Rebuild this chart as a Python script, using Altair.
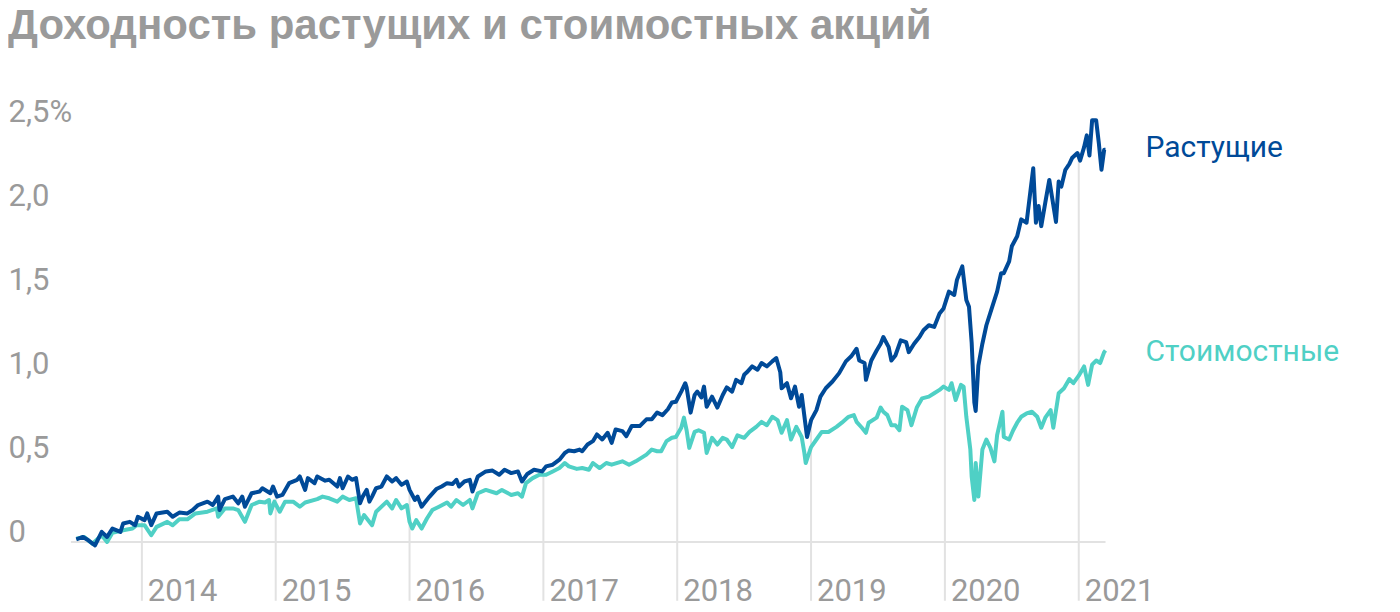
import altair as alt
import pandas as pd

# ---- data (decimal years, cumulative return) ----
growth_t = [2013.51, 2013.56, 2013.60, 2013.65, 2013.70, 2013.74, 2013.78, 2013.84, 2013.86, 2013.91,
            2013.95, 2013.97, 2014.02, 2014.04, 2014.07, 2014.11, 2014.19, 2014.23, 2014.28, 2014.34,
            2014.38, 2014.42, 2014.49, 2014.53, 2014.57, 2014.58, 2014.62, 2014.68, 2014.72, 2014.75,
            2014.77, 2014.82, 2014.88, 2014.90, 2014.96, 2014.98, 2015.01, 2015.05, 2015.10, 2015.16,
            2015.18, 2015.22, 2015.24, 2015.29, 2015.31, 2015.37, 2015.40, 2015.46, 2015.48, 2015.50,
            2015.54, 2015.57, 2015.60, 2015.63, 2015.65, 2015.68, 2015.70, 2015.72, 2015.75, 2015.79,
            2015.83, 2015.87, 2015.90, 2015.94, 2015.98, 2016.00, 2016.04, 2016.06, 2016.09, 2016.11,
            2016.15, 2016.20, 2016.24, 2016.28, 2016.32, 2016.35, 2016.37, 2016.41, 2016.45, 2016.47,
            2016.51, 2016.57, 2016.62, 2016.67, 2016.71, 2016.76, 2016.81, 2016.84, 2016.88, 2016.93,
            2016.99, 2017.02, 2017.07, 2017.12, 2017.16, 2017.19, 2017.23, 2017.27, 2017.29, 2017.33,
            2017.37, 2017.40, 2017.44, 2017.48, 2017.51, 2017.54, 2017.59, 2017.62, 2017.66, 2017.72,
            2017.77, 2017.81, 2017.85, 2017.89, 2017.93, 2017.96, 2017.99, 2018.03, 2018.06, 2018.07,
            2018.10, 2018.13, 2018.15, 2018.18, 2018.20, 2018.22, 2018.26, 2018.30, 2018.34, 2018.37,
            2018.41, 2018.44, 2018.48, 2018.50, 2018.52, 2018.56, 2018.60, 2018.63, 2018.67, 2018.71,
            2018.74, 2018.77, 2018.78, 2018.82, 2018.85, 2018.88, 2018.91, 2018.93, 2018.97, 2019.00,
            2019.04, 2019.07, 2019.11, 2019.16, 2019.21, 2019.26, 2019.30, 2019.34, 2019.36, 2019.40,
            2019.41, 2019.45, 2019.49, 2019.52, 2019.54, 2019.58, 2019.60, 2019.63, 2019.67, 2019.71,
            2019.73, 2019.77, 2019.81, 2019.84, 2019.88, 2019.92, 2019.96, 2019.99, 2020.03, 2020.07,
            2020.09, 2020.13, 2020.16, 2020.18, 2020.20, 2020.22, 2020.23, 2020.25, 2020.28, 2020.31,
            2020.35, 2020.39, 2020.42, 2020.44, 2020.48, 2020.50, 2020.54, 2020.57, 2020.61, 2020.64,
            2020.66, 2020.68, 2020.70, 2020.72, 2020.75, 2020.78, 2020.80, 2020.83, 2020.85, 2020.87,
            2020.90, 2020.93, 2020.95, 2020.99, 2021.01, 2021.04, 2021.06, 2021.08, 2021.10, 2021.13,
            2021.15, 2021.17, 2021.19, 2021.20]
growth_v = [0.016, 0.03, 0.01, -0.02, 0.06, 0.03, 0.08, 0.06, 0.11, 0.12,
            0.10, 0.15, 0.13, 0.17, 0.10, 0.17, 0.18, 0.15, 0.175, 0.17,
            0.19, 0.22, 0.24, 0.22, 0.27, 0.19, 0.255, 0.27, 0.23, 0.27,
            0.21, 0.29, 0.30, 0.32, 0.29, 0.33, 0.27, 0.28, 0.35, 0.37,
            0.39, 0.31, 0.38, 0.35, 0.39, 0.365, 0.37, 0.33, 0.38, 0.32,
            0.39, 0.37, 0.38, 0.23, 0.27, 0.31, 0.24, 0.27, 0.32, 0.33,
            0.39, 0.36, 0.38, 0.34, 0.36, 0.31, 0.25, 0.27, 0.21, 0.23,
            0.27, 0.315, 0.33, 0.35, 0.345, 0.37, 0.33, 0.36, 0.37, 0.30,
            0.39, 0.42, 0.425, 0.40, 0.43, 0.41, 0.42, 0.36, 0.405, 0.43,
            0.42, 0.45, 0.46, 0.49, 0.53, 0.545, 0.54, 0.55, 0.54, 0.58,
            0.60, 0.64, 0.61, 0.65, 0.59, 0.67, 0.66, 0.63, 0.69, 0.69,
            0.73, 0.73, 0.77, 0.755, 0.79, 0.83, 0.835, 0.895, 0.945, 0.92,
            0.77, 0.875, 0.895, 0.86, 0.925, 0.805, 0.865, 0.80, 0.875, 0.92,
            0.895, 0.965, 0.945, 0.995, 1.01, 1.045, 1.025, 1.065, 1.045, 1.075,
            1.095, 1.01, 0.915, 0.945, 0.855, 0.925, 0.805, 0.875, 0.625, 0.725,
            0.785, 0.865, 0.915, 0.955, 1.005, 1.075, 1.105, 1.15, 1.08, 1.065,
            0.965, 1.08, 1.14, 1.18, 1.22, 1.16, 1.08, 1.11, 1.20, 1.19,
            1.13, 1.18, 1.22, 1.26, 1.29, 1.28, 1.36, 1.39, 1.49, 1.47,
            1.56, 1.64, 1.44, 1.40, 1.185, 0.83, 0.78, 1.05, 1.18, 1.29,
            1.39, 1.49, 1.60, 1.60, 1.67, 1.76, 1.82, 1.92, 1.90, 2.095,
            2.225, 1.90, 2.00, 1.88, 2.02, 2.155, 2.055, 1.905, 2.145, 2.115,
            2.215, 2.25, 2.285, 2.315, 2.27, 2.35, 2.42, 2.30, 2.51, 2.51,
            2.375, 2.215, 2.335, 2.335]

value_t = [2013.51, 2013.57, 2013.63, 2013.70, 2013.74, 2013.78, 2013.86, 2013.93, 2013.96, 2014.02,
           2014.07, 2014.11, 2014.19, 2014.23, 2014.28, 2014.34, 2014.40, 2014.49, 2014.56, 2014.57,
           2014.62, 2014.68, 2014.72, 2014.77, 2014.82, 2014.88, 2014.92, 2014.95, 2014.96, 2014.99,
           2015.03, 2015.07, 2015.13, 2015.18, 2015.22, 2015.31, 2015.35, 2015.40, 2015.46, 2015.50,
           2015.55, 2015.60, 2015.63, 2015.66, 2015.72, 2015.75, 2015.83, 2015.87, 2015.90, 2015.94,
           2015.98, 2016.00, 2016.02, 2016.05, 2016.09, 2016.13, 2016.17, 2016.22, 2016.28, 2016.31,
           2016.35, 2016.40, 2016.45, 2016.47, 2016.51, 2016.57, 2016.65, 2016.69, 2016.76, 2016.81,
           2016.84, 2016.87, 2016.92, 2016.97, 2017.02, 2017.07, 2017.12, 2017.16, 2017.19, 2017.25,
           2017.29, 2017.34, 2017.37, 2017.42, 2017.47, 2017.51, 2017.59, 2017.64, 2017.69, 2017.77,
           2017.81, 2017.85, 2017.88, 2017.92, 2017.96, 2017.99, 2018.03, 2018.05, 2018.07, 2018.09,
           2018.13, 2018.16, 2018.20, 2018.22, 2018.26, 2018.30, 2018.34, 2018.37, 2018.41, 2018.45,
           2018.50, 2018.54, 2018.59, 2018.63, 2018.67, 2018.71, 2018.75, 2018.78, 2018.82, 2018.85,
           2018.89, 2018.93, 2018.95, 2018.96, 2019.00, 2019.04, 2019.08, 2019.13, 2019.19, 2019.23,
           2019.28, 2019.32, 2019.34, 2019.38, 2019.41, 2019.43, 2019.49, 2019.52, 2019.54, 2019.57,
           2019.60, 2019.63, 2019.66, 2019.68, 2019.72, 2019.75, 2019.79, 2019.83, 2019.88, 2019.92,
           2019.96, 2019.99, 2020.03, 2020.05, 2020.08, 2020.12, 2020.14, 2020.16, 2020.19, 2020.20,
           2020.22, 2020.23, 2020.25, 2020.28, 2020.31, 2020.34, 2020.37, 2020.39, 2020.43, 2020.44,
           2020.48, 2020.51, 2020.54, 2020.57, 2020.61, 2020.65, 2020.69, 2020.72, 2020.75, 2020.79,
           2020.81, 2020.85, 2020.89, 2020.93, 2020.96, 2021.00, 2021.04, 2021.07, 2021.10, 2021.13,
           2021.16, 2021.19, 2021.20]
value_v = [0.02, 0.03, -0.01, 0.04, 0.0, 0.055, 0.07, 0.08, 0.10, 0.10,
           0.04, 0.09, 0.12, 0.10, 0.135, 0.135, 0.17, 0.18, 0.20, 0.15,
           0.20, 0.20, 0.19, 0.12, 0.22, 0.24, 0.235, 0.25, 0.17, 0.24,
           0.18, 0.24, 0.24, 0.21, 0.235, 0.255, 0.27, 0.26, 0.24, 0.27,
           0.25, 0.26, 0.11, 0.16, 0.10, 0.18, 0.24, 0.20, 0.25, 0.20,
           0.22, 0.12, 0.08, 0.13, 0.08, 0.14, 0.19, 0.21, 0.235, 0.21,
           0.25, 0.22, 0.25, 0.20, 0.29, 0.31, 0.29, 0.31, 0.28, 0.29,
           0.27, 0.35, 0.38, 0.40, 0.40, 0.42, 0.44, 0.47, 0.45, 0.435,
           0.44, 0.43, 0.47, 0.44, 0.47, 0.46, 0.48, 0.46, 0.48, 0.52,
           0.55, 0.54, 0.54, 0.60, 0.62, 0.625, 0.68, 0.74, 0.665, 0.56,
           0.655, 0.665, 0.65, 0.53, 0.62, 0.58, 0.62, 0.61, 0.565, 0.635,
           0.62, 0.655, 0.685, 0.715, 0.695, 0.745, 0.725, 0.65, 0.725, 0.61,
           0.685, 0.625, 0.53, 0.47, 0.565, 0.61, 0.655, 0.655, 0.685, 0.71,
           0.745, 0.755, 0.715, 0.68, 0.65, 0.71, 0.74, 0.80, 0.775, 0.755,
           0.695, 0.695, 0.665, 0.805, 0.785, 0.695, 0.80, 0.855, 0.865, 0.885,
           0.905, 0.925, 0.905, 0.945, 0.845, 0.935, 0.925, 0.745, 0.55, 0.39,
           0.25, 0.47, 0.27, 0.55, 0.61, 0.56, 0.48, 0.635, 0.775, 0.625,
           0.61, 0.665, 0.71, 0.745, 0.765, 0.775, 0.745, 0.68, 0.74, 0.785,
           0.68, 0.885, 0.915, 0.97, 0.945, 0.99, 1.045, 0.935, 1.055, 1.08,
           1.065, 1.13, 1.14]

years = [2014, 2015, 2016, 2017, 2018, 2019, 2020, 2021]
year_labels = ["2014", "2015", "2016", "2017", "2018", "2019", "2020", "2021"]
year_rule_top = [0.13, 0.28, 0.31, 0.43, 0.835, 0.725, 1.45, 2.31]

series_names = ["Растущие", "Стоимостные"]
series_colors = ["#004a98", "#4fd0c5"]
label_t = [2021.2, 2021.2]
label_y = [2.29, 1.075]

baseline_from = [2013.47]
baseline_to = [2021.2]

title_text = "Доходность растущих и стоимостных акций"
y_ticks = [0, 0.5, 1.0, 1.5, 2.0, 2.5]

# ---- tables ----
growth_df = pd.DataFrame({"t": growth_t, "v": growth_v})
value_df = pd.DataFrame({"t": value_t, "v": value_v})
years_df = pd.DataFrame({"year": years, "label": year_labels, "top": year_rule_top, "bottom": [-0.35] * len(years)})
labels_df = pd.DataFrame({"name": series_names, "t": label_t, "v": label_y})
base_df = pd.DataFrame({"x1": baseline_from, "x2": baseline_to, "y": [0]})

GRAY = "#9a9a9a"
FONT = "Roboto"

xs = alt.Scale(domain=[2013.5, 2021.25], nice=False, zero=False)
ys = alt.Scale(domain=[-0.35, 2.6], nice=False, zero=False)
cs = alt.Scale(domain=series_names, range=series_colors)

y_axis = alt.Axis(
    values=y_ticks,
    labelExpr="datum.value == 0 ? '0' : replace(format(datum.value, '.1f'), '.', ',') + (datum.value == 2.5 ? '%' : '')",
    ticks=False, tickSize=0, domain=False, grid=False,
    labelAlign="left", labelBaseline="alphabetic", labelPadding=67,
    labelFontSize=31, labelColor=GRAY, labelFont=FONT, title=None, labelOverlap=False,
)

X = lambda f: alt.X(f, scale=xs, axis=None)
Y = lambda f: alt.Y(f, scale=ys, axis=y_axis)

rules = alt.Chart(years_df).mark_rule(color="#e2e2e2", strokeWidth=2).encode(
    x=X("year:Q"), y=Y("bottom:Q"), y2="top:Q",
)

baseline = alt.Chart(base_df).mark_rule(color="#e2e2e2", strokeWidth=2).encode(
    x=X("x1:Q"), x2="x2:Q", y=Y("y:Q"),
)

year_text = alt.Chart(years_df).mark_text(
    align="left", baseline="alphabetic", dx=6, fontSize=31, font=FONT, color=GRAY
).encode(
    x=X("year:Q"), y=Y("bottom:Q"), text="label:N",
)

value_line = alt.Chart(value_df).mark_line(color=series_colors[1], strokeWidth=4, strokeJoin="round").encode(
    x=X("t:Q"), y=Y("v:Q"),
)

growth_line = alt.Chart(growth_df).mark_line(color=series_colors[0], strokeWidth=4, strokeJoin="round").encode(
    x=X("t:Q"), y=Y("v:Q"),
)

end_labels = alt.Chart(labels_df).mark_text(
    align="left", baseline="alphabetic", dx=40, fontSize=30, font=FONT
).encode(
    x=X("t:Q"), y=Y("v:Q"), text="name:N",
    color=alt.Color("name:N", scale=cs, legend=None),
)

chart = alt.layer(rules, baseline, year_text, value_line, growth_line, end_labels).properties(
    width=1038,
    height=496,
    title=alt.TitleParams(
        text=title_text, anchor="start", frame="group", dx=-67, offset=16,
        fontSize=42, font="Liberation Sans", fontWeight="bold", color=GRAY, baseline="alphabetic",
    ),
    autosize=alt.AutoSizeParams(type="none"),
    padding={"left": 67, "top": 97, "right": 280, "bottom": 8},
).configure_view(stroke=None)

chart.save("out.html", embed_options={"renderer": "svg", "actions": False})
